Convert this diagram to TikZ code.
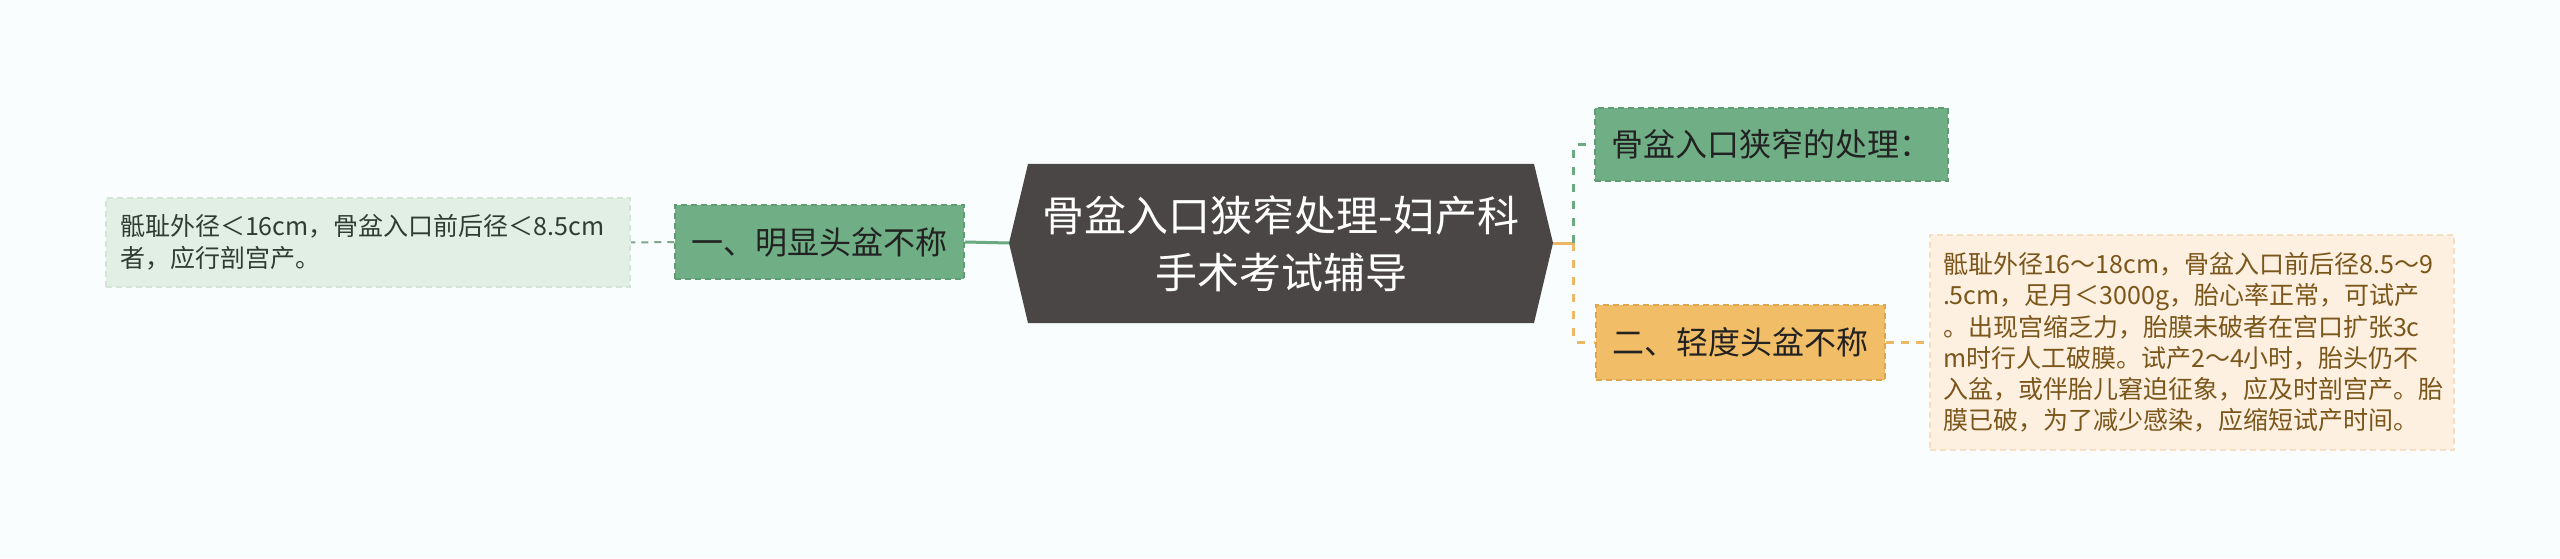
\documentclass[tikz,border=0pt]{standalone}
\usepackage{fontspec}
\newfontfamily\cjk{Noto Sans CJK SC}
\definecolor{bg}{HTML}{F9FDFD}
\definecolor{cfill}{HTML}{4B4646}
\definecolor{gfill}{HTML}{70AF85}
\definecolor{gborder}{HTML}{5E9C72}
\definecolor{glfill}{HTML}{E2EFE5}
\definecolor{glborder}{HTML}{D2E5D7}
\definecolor{ofill}{HTML}{F2BD67}
\definecolor{oborder}{HTML}{DFA64C}
\definecolor{olfill}{HTML}{FDF0E0}
\definecolor{olborder}{HTML}{F5E0C5}
\definecolor{gline}{HTML}{6AAA7E}
\definecolor{gdline}{HTML}{7FA68C}
\definecolor{oline}{HTML}{EDB865}
\definecolor{darktext}{HTML}{222222}
\definecolor{gltext}{HTML}{2E3D32}
\definecolor{oltext}{HTML}{7B561B}
\tikzset{
  box/.style={rectangle, inner sep=0pt, line width=1.5pt, dash pattern=on 6pt off 4pt},
  branchg/.style={box, fill=gfill, draw=gborder, minimum width=289pt, minimum height=74pt,
    text=darktext, font=\cjk\fontsize{32}{40}\selectfont},
  brancho/.style={box, fill=ofill, draw=oborder, minimum width=289pt, minimum height=75pt,
    text=darktext, font=\cjk\fontsize{32}{40}\selectfont},
  leafg/.style={box, fill=glfill, draw=glborder, minimum width=524pt, minimum height=89pt,
    inner xsep=14pt, text width=496pt, align=left, text=gltext, font=\cjk\fontsize{25}{32}\selectfont},
  leafo/.style={box, fill=olfill, draw=olborder, minimum width=524pt, minimum height=215pt,
    inner xsep=13pt, text width=498pt, align=left, text=oltext, font=\cjk\fontsize{25}{31.3}\selectfont},
  centertext/.style={inner sep=0pt, text=white, align=center, font=\cjk\fontsize{42}{57}\selectfont},
  gsolid/.style={draw=gline, line width=3pt},
  osolid/.style={draw=oline, line width=3pt},
  gdash/.style={draw=gdline, line width=2pt, dash pattern=on 7pt off 6pt},
  gdashv/.style={draw=gline, line width=3pt, dash pattern=on 8pt off 9pt, rounded corners=4pt},
  odashv/.style={draw=oline, line width=3pt, dash pattern=on 8pt off 9pt, rounded corners=4pt},
  odash/.style={draw=oline, line width=2.5pt, dash pattern=on 8pt off 7pt},
}
\begin{document}
\begin{tikzpicture}[x=1pt,y=1pt]
\useasboundingbox (0,0) rectangle (2560,558);
\fill[bg] (0,0) rectangle (2560,558);
% central node
\coordinate (cW) at (1009,315);
\coordinate (cE) at (1553,315);
\fill[cfill] (1028,394) -- (1534,394) -- (cE) -- (1534,235) -- (1028,235) -- (cW) -- cycle;
\node[centertext] (c) at (1281,314) {骨盆入口狭窄处理-妇产科\\手术考试辅导};
% left side
\node[branchg] (lb) at (819.5,316) {一、明显头盆不称};
\node[leafg] (ll) at (368,315.5) {骶耻外径＜16cm，骨盆入口前后径＜8.5cm\\者，应行剖宫产。};
% right side
\node[branchg, minimum width=353pt, minimum height=73pt] (tr) at (1771.5,413.5) {骨盆入口狭窄的处理：};
\node[brancho] (ob) at (1740.5,215.5) {二、轻度头盆不称};
\node[leafo] (rl) at (2192,215.5) {骶耻外径16～18cm，骨盆入口前后径8.5～9\\.5cm，足月＜3000g，胎心率正常，可试产\\。出现宫缩乏力，胎膜未破者在宫口扩张3c\\m时行人工破膜。试产2～4小时，胎头仍不\\入盆，或伴胎儿窘迫征象，应及时剖宫产。胎\\膜已破，为了减少感染，应缩短试产时间。};
% connectors
\coordinate (j) at (1573,315);
\draw[gsolid] (cW) -- (lb.east);
\draw[gdash] (lb.west) -- (ll.east);
\draw[osolid] (cE) -- (j);
\draw[gdashv] (j) |- (tr.west);
\draw[odashv] (j) |- (ob.west);
\draw[odash] (ob.east) -- (rl.west);
\end{tikzpicture}
\end{document}
